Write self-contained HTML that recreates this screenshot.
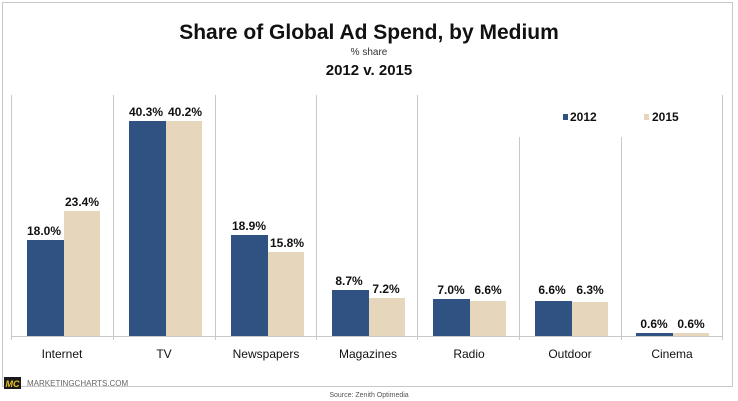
<!DOCTYPE html>
<html><head><style>
body{margin:0;width:738px;height:401px;background:#fff;font-family:"Liberation Sans",sans-serif;position:relative;overflow:hidden}
.box{position:absolute;left:2px;top:2px;width:731px;height:385px;border:1px solid #c8c8c8;box-sizing:border-box}
</style></head><body>
<div class="box"></div>
<svg width="738" height="401" style="position:absolute;left:0;top:0" font-family="Liberation Sans, sans-serif">
<text x="369" y="39" text-anchor="middle" font-size="21" font-weight="bold" fill="#111">Share of Global Ad Spend, by Medium</text>
<text x="369" y="55" text-anchor="middle" font-size="10" fill="#333">% share</text>
<text x="369" y="75" text-anchor="middle" font-size="15" font-weight="bold" fill="#111">2012 v. 2015</text>
<g stroke="#c8c8c8" stroke-width="1">
<line x1="11.5" y1="95" x2="11.5" y2="340"/>
<line x1="113.5" y1="95" x2="113.5" y2="340"/>
<line x1="215.5" y1="95" x2="215.5" y2="340"/>
<line x1="316.5" y1="95" x2="316.5" y2="340"/>
<line x1="417.5" y1="95" x2="417.5" y2="340"/>
<line x1="519.5" y1="137" x2="519.5" y2="340"/>
<line x1="621.5" y1="137" x2="621.5" y2="340"/>
<line x1="722.5" y1="95" x2="722.5" y2="340"/>
<line x1="11" y1="336.5" x2="723" y2="336.5"/>
</g>
<rect x="563" y="114" width="5" height="6" fill="#2f5283"/>
<text x="570" y="121" font-size="12" font-weight="bold" fill="#111">2012</text>
<rect x="644" y="114" width="5" height="6" fill="#e6d6bb"/>
<text x="652" y="121" font-size="12" font-weight="bold" fill="#111">2015</text>
<g font-size="12" font-weight="bold" fill="#111" text-anchor="middle">
<rect x="27" y="240" width="37" height="96" fill="#2f5283"/><rect x="64" y="211" width="36" height="125" fill="#e6d6bb"/>
<text x="44" y="235">18.0%</text><text x="82" y="206">23.4%</text>
<rect x="129" y="121" width="37" height="215" fill="#2f5283"/><rect x="166" y="121" width="36" height="215" fill="#e6d6bb"/>
<text x="146" y="116">40.3%</text><text x="185" y="116">40.2%</text>
<rect x="231" y="235" width="37" height="101" fill="#2f5283"/><rect x="268" y="252" width="36" height="84" fill="#e6d6bb"/>
<text x="249" y="230">18.9%</text><text x="287" y="247">15.8%</text>
<rect x="332" y="290" width="37" height="46" fill="#2f5283"/><rect x="369" y="298" width="36" height="38" fill="#e6d6bb"/>
<text x="349" y="285">8.7%</text><text x="386" y="293">7.2%</text>
<rect x="433" y="299" width="37" height="37" fill="#2f5283"/><rect x="470" y="301" width="36" height="35" fill="#e6d6bb"/>
<text x="451" y="294">7.0%</text><text x="488" y="294">6.6%</text>
<rect x="535" y="301" width="37" height="35" fill="#2f5283"/><rect x="572" y="302" width="36" height="34" fill="#e6d6bb"/>
<text x="552" y="294">6.6%</text><text x="590" y="294">6.3%</text>
<rect x="636" y="333" width="37" height="3" fill="#2f5283"/><rect x="673" y="333" width="36" height="3" fill="#e6d6bb"/>
<text x="654" y="328">0.6%</text><text x="691" y="328">0.6%</text>
</g>
<g font-size="12" fill="#111" text-anchor="middle">
<text x="62" y="358">Internet</text><text x="164" y="358">TV</text><text x="266" y="358">Newspapers</text>
<text x="368" y="358">Magazines</text><text x="469" y="358">Radio</text><text x="570" y="358">Outdoor</text><text x="672" y="358">Cinema</text>
</g>
<rect x="4" y="377" width="17" height="12" fill="#1a1a1a"/>
<text x="12.5" y="387" text-anchor="middle" font-size="9" font-weight="bold" font-style="italic" fill="#e8c020">MC</text>
<text x="27" y="386" font-size="8" fill="#666">MARKETINGCHARTS.COM</text>
<text x="369" y="397" text-anchor="middle" font-size="7" fill="#555">Source: Zenith Optimedia</text>
</svg>
</body></html>
